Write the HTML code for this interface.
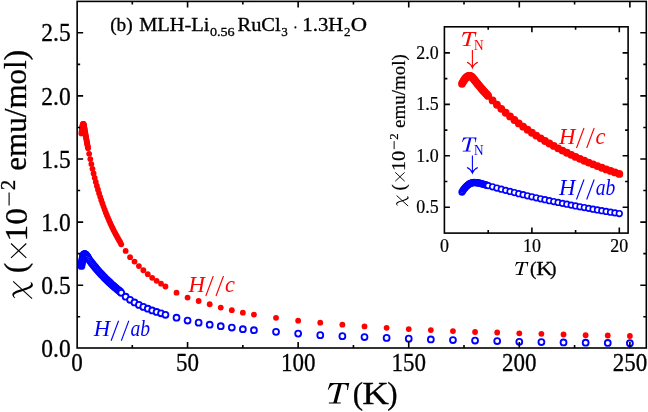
<!DOCTYPE html>
<html><head><meta charset="utf-8"><title>chart</title>
<style>html,body{margin:0;padding:0;background:#fff;}svg{display:block;will-change:transform;opacity:0.9999;}text{font-family:"Liberation Serif",serif;stroke:#000;stroke-width:.3px;}g.cr text,g.cb text{stroke:none;}</style>
</head><body>
<svg width="648" height="412" viewBox="0 0 648 412">
<rect x="0" y="0" width="648" height="412" fill="#fff"/>
<g fill="#fff" stroke="#0000ff" stroke-width="1.85"><circle cx="81.42" cy="265.95" r="2.95"/><circle cx="81.64" cy="264.31" r="2.95"/><circle cx="81.87" cy="262.68" r="2.95"/><circle cx="82.09" cy="261.42" r="2.95"/><circle cx="82.31" cy="260.16" r="2.95"/><circle cx="82.53" cy="258.90" r="2.95"/><circle cx="82.75" cy="258.01" r="2.95"/><circle cx="82.97" cy="257.13" r="2.95"/><circle cx="83.19" cy="256.25" r="2.95"/><circle cx="83.41" cy="255.75" r="2.95"/><circle cx="83.63" cy="255.24" r="2.95"/><circle cx="83.86" cy="254.74" r="2.95"/><circle cx="84.08" cy="254.57" r="2.95"/><circle cx="84.30" cy="254.40" r="2.95"/><circle cx="84.52" cy="254.23" r="2.95"/><circle cx="84.74" cy="254.32" r="2.95"/><circle cx="84.96" cy="254.40" r="2.95"/><circle cx="85.18" cy="254.49" r="2.95"/><circle cx="85.40" cy="254.65" r="2.95"/><circle cx="85.62" cy="254.82" r="2.95"/><circle cx="85.85" cy="254.99" r="2.95"/><circle cx="86.07" cy="255.31" r="2.95"/><circle cx="86.29" cy="255.62" r="2.95"/><circle cx="86.51" cy="255.94" r="2.95"/><circle cx="86.73" cy="256.25" r="2.95"/><circle cx="86.95" cy="256.56" r="2.95"/><circle cx="87.17" cy="256.87" r="2.95"/><circle cx="87.39" cy="257.18" r="2.95"/><circle cx="87.62" cy="257.49" r="2.95"/><circle cx="87.84" cy="257.79" r="2.95"/><circle cx="88.06" cy="258.10" r="2.95"/><circle cx="89.16" cy="259.60" r="2.95"/><circle cx="90.27" cy="261.07" r="2.95"/><circle cx="91.37" cy="262.51" r="2.95"/><circle cx="92.48" cy="263.92" r="2.95"/><circle cx="93.59" cy="265.30" r="2.95"/><circle cx="94.69" cy="266.65" r="2.95"/><circle cx="95.80" cy="267.97" r="2.95"/><circle cx="96.90" cy="269.27" r="2.95"/><circle cx="98.01" cy="270.54" r="2.95"/><circle cx="99.12" cy="271.78" r="2.95"/><circle cx="100.22" cy="273.00" r="2.95"/><circle cx="101.33" cy="274.20" r="2.95"/><circle cx="102.43" cy="275.37" r="2.95"/><circle cx="103.54" cy="276.52" r="2.95"/><circle cx="104.64" cy="277.65" r="2.95"/><circle cx="105.75" cy="278.76" r="2.95"/><circle cx="106.86" cy="279.85" r="2.95"/><circle cx="107.96" cy="280.92" r="2.95"/><circle cx="109.07" cy="281.96" r="2.95"/><circle cx="110.17" cy="282.99" r="2.95"/><circle cx="111.28" cy="284.00" r="2.95"/><circle cx="112.38" cy="285.00" r="2.95"/><circle cx="113.49" cy="285.97" r="2.95"/><circle cx="114.60" cy="286.93" r="2.95"/><circle cx="115.70" cy="287.87" r="2.95"/><circle cx="116.81" cy="288.80" r="2.95"/><circle cx="117.91" cy="289.71" r="2.95"/><circle cx="119.02" cy="290.60" r="2.95"/><circle cx="120.12" cy="291.48" r="2.95"/><circle cx="121.23" cy="292.84" r="2.95"/><circle cx="125.65" cy="296.69" r="2.95"/><circle cx="130.08" cy="299.84" r="2.95"/><circle cx="134.50" cy="302.49" r="2.95"/><circle cx="138.92" cy="304.88" r="2.95"/><circle cx="143.34" cy="306.90" r="2.95"/><circle cx="147.77" cy="308.66" r="2.95"/><circle cx="152.19" cy="310.43" r="2.95"/><circle cx="156.61" cy="311.94" r="2.95"/><circle cx="161.04" cy="313.32" r="2.95"/><circle cx="165.46" cy="314.84" r="2.95"/><circle cx="176.52" cy="317.73" r="2.95"/><circle cx="187.57" cy="320.51" r="2.95"/><circle cx="198.63" cy="322.65" r="2.95"/><circle cx="209.69" cy="324.66" r="2.95"/><circle cx="220.75" cy="326.18" r="2.95"/><circle cx="231.81" cy="327.56" r="2.95"/><circle cx="242.86" cy="329.20" r="2.95"/><circle cx="253.92" cy="330.21" r="2.95"/><circle cx="276.03" cy="331.85" r="2.95"/><circle cx="298.15" cy="333.61" r="2.95"/><circle cx="320.26" cy="335.13" r="2.95"/><circle cx="342.38" cy="336.13" r="2.95"/><circle cx="364.50" cy="337.02" r="2.95"/><circle cx="386.61" cy="337.90" r="2.95"/><circle cx="408.73" cy="338.65" r="2.95"/><circle cx="430.84" cy="339.41" r="2.95"/><circle cx="452.95" cy="340.04" r="2.95"/><circle cx="475.07" cy="340.54" r="2.95"/><circle cx="497.19" cy="341.05" r="2.95"/><circle cx="519.30" cy="341.80" r="2.95"/><circle cx="541.41" cy="342.06" r="2.95"/><circle cx="563.53" cy="342.43" r="2.95"/><circle cx="585.64" cy="342.69" r="2.95"/><circle cx="607.76" cy="342.94" r="2.95"/><circle cx="629.88" cy="343.19" r="2.95"/></g>
<g fill="#ff0000"><circle cx="81.42" cy="133.40" r="2.9"/><circle cx="81.64" cy="131.38" r="2.9"/><circle cx="81.87" cy="129.62" r="2.9"/><circle cx="82.09" cy="127.98" r="2.9"/><circle cx="82.31" cy="126.60" r="2.9"/><circle cx="82.53" cy="125.46" r="2.9"/><circle cx="82.75" cy="124.58" r="2.9"/><circle cx="82.97" cy="124.08" r="2.9"/><circle cx="83.19" cy="123.82" r="2.9"/><circle cx="83.41" cy="123.82" r="2.9"/><circle cx="83.63" cy="124.20" r="2.9"/><circle cx="83.86" cy="124.83" r="2.9"/><circle cx="84.08" cy="125.71" r="2.9"/><circle cx="84.30" cy="127.00" r="2.9"/><circle cx="84.52" cy="128.37" r="2.9"/><circle cx="84.74" cy="129.72" r="2.9"/><circle cx="84.96" cy="131.05" r="2.9"/><circle cx="85.18" cy="132.37" r="2.9"/><circle cx="85.40" cy="133.68" r="2.9"/><circle cx="85.62" cy="134.97" r="2.9"/><circle cx="85.85" cy="136.24" r="2.9"/><circle cx="86.07" cy="137.50" r="2.9"/><circle cx="86.29" cy="138.75" r="2.9"/><circle cx="86.51" cy="139.99" r="2.9"/><circle cx="86.73" cy="141.21" r="2.9"/><circle cx="86.95" cy="142.41" r="2.9"/><circle cx="87.17" cy="143.61" r="2.9"/><circle cx="87.39" cy="144.79" r="2.9"/><circle cx="87.62" cy="145.96" r="2.9"/><circle cx="87.84" cy="147.12" r="2.9"/><circle cx="88.06" cy="148.26" r="2.9"/><circle cx="89.16" cy="153.81" r="2.9"/><circle cx="90.27" cy="159.08" r="2.9"/><circle cx="91.37" cy="164.10" r="2.9"/><circle cx="92.48" cy="168.87" r="2.9"/><circle cx="93.59" cy="173.43" r="2.9"/><circle cx="94.69" cy="177.78" r="2.9"/><circle cx="95.80" cy="181.93" r="2.9"/><circle cx="96.90" cy="185.91" r="2.9"/><circle cx="98.01" cy="189.72" r="2.9"/><circle cx="99.12" cy="193.36" r="2.9"/><circle cx="100.22" cy="196.86" r="2.9"/><circle cx="101.33" cy="200.22" r="2.9"/><circle cx="102.43" cy="203.45" r="2.9"/><circle cx="103.54" cy="206.55" r="2.9"/><circle cx="104.64" cy="209.54" r="2.9"/><circle cx="105.75" cy="212.42" r="2.9"/><circle cx="106.86" cy="215.19" r="2.9"/><circle cx="107.96" cy="217.87" r="2.9"/><circle cx="109.07" cy="220.44" r="2.9"/><circle cx="110.17" cy="222.94" r="2.9"/><circle cx="111.28" cy="225.34" r="2.9"/><circle cx="112.38" cy="227.67" r="2.9"/><circle cx="113.49" cy="229.92" r="2.9"/><circle cx="114.60" cy="232.10" r="2.9"/><circle cx="115.70" cy="234.21" r="2.9"/><circle cx="116.81" cy="236.25" r="2.9"/><circle cx="117.91" cy="238.23" r="2.9"/><circle cx="119.02" cy="240.15" r="2.9"/><circle cx="120.12" cy="242.01" r="2.9"/><circle cx="121.23" cy="244.32" r="2.9"/><circle cx="125.65" cy="250.95" r="2.9"/><circle cx="130.08" cy="257.13" r="2.9"/><circle cx="134.50" cy="261.54" r="2.9"/><circle cx="138.92" cy="266.07" r="2.9"/><circle cx="143.34" cy="270.23" r="2.9"/><circle cx="147.77" cy="274.14" r="2.9"/><circle cx="152.19" cy="277.79" r="2.9"/><circle cx="156.61" cy="280.82" r="2.9"/><circle cx="161.04" cy="283.71" r="2.9"/><circle cx="165.46" cy="286.49" r="2.9"/><circle cx="176.52" cy="292.66" r="2.9"/><circle cx="187.57" cy="297.57" r="2.9"/><circle cx="198.63" cy="300.98" r="2.9"/><circle cx="209.69" cy="304.25" r="2.9"/><circle cx="220.75" cy="307.53" r="2.9"/><circle cx="231.81" cy="310.17" r="2.9"/><circle cx="242.86" cy="312.69" r="2.9"/><circle cx="253.92" cy="314.59" r="2.9"/><circle cx="276.03" cy="317.86" r="2.9"/><circle cx="298.15" cy="320.64" r="2.9"/><circle cx="320.26" cy="322.65" r="2.9"/><circle cx="342.38" cy="324.67" r="2.9"/><circle cx="364.50" cy="326.43" r="2.9"/><circle cx="386.61" cy="327.82" r="2.9"/><circle cx="408.73" cy="329.08" r="2.9"/><circle cx="430.84" cy="330.09" r="2.9"/><circle cx="452.95" cy="331.09" r="2.9"/><circle cx="475.07" cy="331.98" r="2.9"/><circle cx="497.19" cy="332.48" r="2.9"/><circle cx="519.30" cy="333.36" r="2.9"/><circle cx="541.41" cy="333.87" r="2.9"/><circle cx="563.53" cy="334.50" r="2.9"/><circle cx="585.64" cy="335.25" r="2.9"/><circle cx="607.76" cy="335.50" r="2.9"/><circle cx="629.88" cy="336.01" r="2.9"/></g>
<path d="M132.29 348.0v-3M132.29 1.4v3M187.57 348.0v-6M187.57 1.4v6M242.86 348.0v-3M242.86 1.4v3M298.15 348.0v-6M298.15 1.4v6M353.44 348.0v-3M353.44 1.4v3M408.73 348.0v-6M408.73 1.4v6M464.01 348.0v-3M464.01 1.4v3M519.30 348.0v-6M519.30 1.4v6M574.59 348.0v-3M574.59 1.4v3M629.88 348.0v-6M629.88 1.4v6M77.15 316.75h3M646.3 316.75h-3M77.15 285.20h6M646.3 285.20h-6M77.15 253.65h3M646.3 253.65h-3M77.15 222.10h6M646.3 222.10h-6M77.15 190.55h3M646.3 190.55h-3M77.15 159.00h6M646.3 159.00h-6M77.15 127.45h3M646.3 127.45h-3M77.15 95.90h6M646.3 95.90h-6M77.15 64.35h3M646.3 64.35h-3M77.15 32.80h6M646.3 32.80h-6" stroke="#000" stroke-width="1.6" fill="none"/>
<rect x="77.15" y="1.4" width="569.15" height="346.6" fill="none" stroke="#000" stroke-width="1.6"/>
<text x="77.00" y="371.4" font-size="24.5" text-anchor="middle" textLength="11.5" lengthAdjust="spacingAndGlyphs">0</text>
<text x="187.57" y="371.4" font-size="24.5" text-anchor="middle" textLength="23.0" lengthAdjust="spacingAndGlyphs">50</text>
<text x="298.15" y="371.4" font-size="24.5" text-anchor="middle" textLength="34.5" lengthAdjust="spacingAndGlyphs">100</text>
<text x="408.73" y="371.4" font-size="24.5" text-anchor="middle" textLength="34.5" lengthAdjust="spacingAndGlyphs">150</text>
<text x="519.30" y="371.4" font-size="24.5" text-anchor="middle" textLength="34.5" lengthAdjust="spacingAndGlyphs">200</text>
<text x="629.88" y="371.4" font-size="24.5" text-anchor="middle" textLength="34.5" lengthAdjust="spacingAndGlyphs">250</text>
<text x="70.7" y="356.90" font-size="24.5" text-anchor="end" textLength="29.4" lengthAdjust="spacingAndGlyphs">0.0</text>
<text x="70.7" y="293.80" font-size="24.5" text-anchor="end" textLength="29.4" lengthAdjust="spacingAndGlyphs">0.5</text>
<text x="70.7" y="230.70" font-size="24.5" text-anchor="end" textLength="29.4" lengthAdjust="spacingAndGlyphs">1.0</text>
<text x="70.7" y="167.60" font-size="24.5" text-anchor="end" textLength="29.4" lengthAdjust="spacingAndGlyphs">1.5</text>
<text x="70.7" y="104.50" font-size="24.5" text-anchor="end" textLength="29.4" lengthAdjust="spacingAndGlyphs">2.0</text>
<text x="70.7" y="41.40" font-size="24.5" text-anchor="end" textLength="29.4" lengthAdjust="spacingAndGlyphs">2.5</text>
<path transform="translate(328.0,403.6) scale(1.0000)" d="M1.9 -20.6L21.3 -20.6L19.8 -13.7L19.0 -13.7C19.6 -17 19.4 -19.3 16 -19.4L13.6 -19.4L9.0 -1.8C8.8 -1.1 9.2 -1.0 12.8 -1.0L12.6 0L0.8 0L1.0 -1.0C4.5 -1.0 5.4 -1.1 5.7 -2.2L10.2 -19.4L8 -19.4C4.5 -19.3 2.8 -18 0.6 -13.9L-0.2 -13.9Z" fill="#000"/>
<text x="352.8" y="403.5" font-size="31">(</text>
<text x="362.2" y="403.5" font-size="31" textLength="26.6" lengthAdjust="spacingAndGlyphs">K</text>
<text x="387.2" y="403.5" font-size="31">)</text>
<g><path d="M14.9 298.3C12.9 297.3 11.8 295.3 12.6 293.6C13.6 291.5 17 290.6 22.3 289C26 287.8 29.3 286.6 30.6 285C31.4 284 31.1 282.9 30.2 282.1C32.3 282.6 33.4 284.2 32.7 285.9C31.9 287.9 28.5 289 22.9 290.9C18.5 292.3 15.4 293.1 14.3 294.6C13.6 295.6 14.1 297 15.3 297.8Z" fill="#000"/><path d="M13.15 281.4L32.07 298.65" stroke="#000" stroke-width="1.1" fill="none"/><path d="M11.0 243.5L26.3 257.9M11.0 257.9L26.3 243.5" stroke="#000" stroke-width="1.1" fill="none"/><path d="M9.1 205.5V192.4" stroke="#000" stroke-width="1.1" fill="none"/><text transform="translate(26.4,273.0) rotate(-90)" font-size="30.5" >(</text><text transform="translate(26.799999999999997,241.4) rotate(-90)" font-size="31.6" textLength="33.4" lengthAdjust="spacingAndGlyphs">10</text><text transform="translate(14.75,190.2) rotate(-90)" font-size="21" >2</text><text transform="translate(26.4,170.7) rotate(-90)" font-size="30.5" textLength="120.8" lengthAdjust="spacingAndGlyphs">emu/mol)</text></g>
<text x="110.2" y="31.3" font-size="18" textLength="22.5" lengthAdjust="spacingAndGlyphs">(b)</text>
<text x="139.2" y="31.3" font-size="18" textLength="70.3" lengthAdjust="spacingAndGlyphs">MLH-Li</text>
<text x="209.9" y="36.0" font-size="13" textLength="24.8" lengthAdjust="spacingAndGlyphs">0.56</text>
<text x="237.5" y="31.3" font-size="18" textLength="43.2" lengthAdjust="spacingAndGlyphs">RuCl</text>
<text x="281.3" y="36.0" font-size="13">3</text>
<circle cx="295.4" cy="27.400000000000002" r="1.05" fill="#000"/>
<text x="302.3" y="31.3" font-size="18" textLength="41" lengthAdjust="spacingAndGlyphs">1.3H</text>
<text x="344" y="36.0" font-size="13">2</text>
<text x="350.8" y="31.3" font-size="18" textLength="16.3" lengthAdjust="spacingAndGlyphs">O</text>
<g class="cr" fill="#ff0000" stroke="none"><text x="188.4" y="291.6" font-size="22.3" font-style="italic" textLength="16.4" lengthAdjust="spacingAndGlyphs">H</text><line x1="205.8" y1="296.0" x2="213.3" y2="276.0" stroke="#ff0000" stroke-width="1.1"/><line x1="216.0" y1="296.0" x2="223.5" y2="276.0" stroke="#ff0000" stroke-width="1.1"/><text x="224.9" y="291.6" font-size="22.3" font-style="italic">c</text></g>
<g class="cb" fill="#0000ff" stroke="none"><text x="93.7" y="336.3" font-size="22.3" font-style="italic" textLength="16.4" lengthAdjust="spacingAndGlyphs">H</text><line x1="111.1" y1="340.7" x2="118.6" y2="320.7" stroke="#0000ff" stroke-width="1.1"/><line x1="121.3" y1="340.7" x2="128.8" y2="320.7" stroke="#0000ff" stroke-width="1.1"/><text x="130.4" y="336.3" font-size="22.3" font-style="italic" textLength="19.6" lengthAdjust="spacingAndGlyphs">ab</text></g>
<rect x="444.4" y="26.8" width="183.70000000000005" height="206.29999999999998" fill="#fff" stroke="none"/>
<g fill="#fff" stroke="#0000ff" stroke-width="1.65"><circle cx="461.98" cy="192.02" r="2.8"/><circle cx="462.85" cy="190.68" r="2.8"/><circle cx="463.73" cy="189.35" r="2.8"/><circle cx="464.60" cy="188.32" r="2.8"/><circle cx="465.48" cy="187.29" r="2.8"/><circle cx="466.35" cy="186.26" r="2.8"/><circle cx="467.22" cy="185.54" r="2.8"/><circle cx="468.10" cy="184.82" r="2.8"/><circle cx="468.97" cy="184.10" r="2.8"/><circle cx="469.85" cy="183.69" r="2.8"/><circle cx="470.72" cy="183.27" r="2.8"/><circle cx="471.59" cy="182.86" r="2.8"/><circle cx="472.47" cy="182.73" r="2.8"/><circle cx="473.34" cy="182.59" r="2.8"/><circle cx="474.22" cy="182.45" r="2.8"/><circle cx="475.09" cy="182.52" r="2.8"/><circle cx="475.96" cy="182.59" r="2.8"/><circle cx="476.84" cy="182.66" r="2.8"/><circle cx="477.71" cy="182.79" r="2.8"/><circle cx="478.59" cy="182.93" r="2.8"/><circle cx="479.46" cy="183.07" r="2.8"/><circle cx="480.33" cy="183.33" r="2.8"/><circle cx="481.21" cy="183.58" r="2.8"/><circle cx="482.08" cy="183.84" r="2.8"/><circle cx="482.96" cy="184.10" r="2.8"/><circle cx="483.83" cy="184.35" r="2.8"/><circle cx="484.70" cy="184.60" r="2.8"/><circle cx="485.58" cy="184.86" r="2.8"/><circle cx="486.45" cy="185.11" r="2.8"/><circle cx="487.33" cy="185.36" r="2.8"/><circle cx="488.20" cy="185.61" r="2.8"/><circle cx="492.57" cy="186.83" r="2.8"/><circle cx="496.94" cy="188.03" r="2.8"/><circle cx="501.31" cy="189.21" r="2.8"/><circle cx="505.68" cy="190.36" r="2.8"/><circle cx="510.05" cy="191.49" r="2.8"/><circle cx="514.42" cy="192.59" r="2.8"/><circle cx="518.79" cy="193.67" r="2.8"/><circle cx="523.16" cy="194.73" r="2.8"/><circle cx="527.53" cy="195.77" r="2.8"/><circle cx="531.90" cy="196.78" r="2.8"/><circle cx="536.27" cy="197.78" r="2.8"/><circle cx="540.64" cy="198.76" r="2.8"/><circle cx="545.01" cy="199.71" r="2.8"/><circle cx="549.38" cy="200.65" r="2.8"/><circle cx="553.75" cy="201.58" r="2.8"/><circle cx="558.12" cy="202.48" r="2.8"/><circle cx="562.49" cy="203.37" r="2.8"/><circle cx="566.86" cy="204.24" r="2.8"/><circle cx="571.23" cy="205.10" r="2.8"/><circle cx="575.60" cy="205.94" r="2.8"/><circle cx="579.97" cy="206.76" r="2.8"/><circle cx="584.34" cy="207.57" r="2.8"/><circle cx="588.71" cy="208.37" r="2.8"/><circle cx="593.08" cy="209.15" r="2.8"/><circle cx="597.45" cy="209.92" r="2.8"/><circle cx="601.82" cy="210.68" r="2.8"/><circle cx="606.19" cy="211.42" r="2.8"/><circle cx="610.56" cy="212.15" r="2.8"/><circle cx="614.93" cy="212.87" r="2.8"/><circle cx="619.30" cy="213.57" r="2.8"/></g>
<g fill="#ff0000"><circle cx="461.98" cy="83.77" r="3.9"/><circle cx="462.85" cy="82.12" r="3.9"/><circle cx="463.73" cy="80.68" r="3.9"/><circle cx="464.60" cy="79.35" r="3.9"/><circle cx="465.48" cy="78.21" r="3.9"/><circle cx="466.35" cy="77.29" r="3.9"/><circle cx="467.22" cy="76.57" r="3.9"/><circle cx="468.10" cy="76.16" r="3.9"/><circle cx="468.97" cy="75.95" r="3.9"/><circle cx="469.85" cy="75.95" r="3.9"/><circle cx="470.72" cy="76.26" r="3.9"/><circle cx="471.59" cy="76.77" r="3.9"/><circle cx="472.47" cy="77.49" r="3.9"/><circle cx="473.34" cy="78.55" r="3.9"/><circle cx="474.22" cy="79.66" r="3.9"/><circle cx="475.09" cy="80.76" r="3.9"/><circle cx="475.96" cy="81.85" r="3.9"/><circle cx="476.84" cy="82.93" r="3.9"/><circle cx="477.71" cy="84.00" r="3.9"/><circle cx="478.59" cy="85.05" r="3.9"/><circle cx="479.46" cy="86.09" r="3.9"/><circle cx="480.33" cy="87.12" r="3.9"/><circle cx="481.21" cy="88.14" r="3.9"/><circle cx="482.08" cy="89.15" r="3.9"/><circle cx="482.96" cy="90.15" r="3.9"/><circle cx="483.83" cy="91.13" r="3.9"/><circle cx="484.70" cy="92.11" r="3.9"/><circle cx="485.58" cy="93.07" r="3.9"/><circle cx="486.45" cy="94.03" r="3.9"/><circle cx="487.33" cy="94.97" r="3.9"/><circle cx="488.20" cy="95.91" r="3.9"/><circle cx="492.57" cy="100.44" r="3.9"/><circle cx="496.94" cy="104.74" r="3.9"/><circle cx="501.31" cy="108.84" r="3.9"/><circle cx="505.68" cy="112.74" r="3.9"/><circle cx="510.05" cy="116.46" r="3.9"/><circle cx="514.42" cy="120.01" r="3.9"/><circle cx="518.79" cy="123.41" r="3.9"/><circle cx="523.16" cy="126.65" r="3.9"/><circle cx="527.53" cy="129.76" r="3.9"/><circle cx="531.90" cy="132.74" r="3.9"/><circle cx="536.27" cy="135.60" r="3.9"/><circle cx="540.64" cy="138.34" r="3.9"/><circle cx="545.01" cy="140.98" r="3.9"/><circle cx="549.38" cy="143.51" r="3.9"/><circle cx="553.75" cy="145.95" r="3.9"/><circle cx="558.12" cy="148.30" r="3.9"/><circle cx="562.49" cy="150.57" r="3.9"/><circle cx="566.86" cy="152.75" r="3.9"/><circle cx="571.23" cy="154.86" r="3.9"/><circle cx="575.60" cy="156.89" r="3.9"/><circle cx="579.97" cy="158.86" r="3.9"/><circle cx="584.34" cy="160.76" r="3.9"/><circle cx="588.71" cy="162.59" r="3.9"/><circle cx="593.08" cy="164.37" r="3.9"/><circle cx="597.45" cy="166.10" r="3.9"/><circle cx="601.82" cy="167.76" r="3.9"/><circle cx="606.19" cy="169.38" r="3.9"/><circle cx="610.56" cy="170.95" r="3.9"/><circle cx="614.93" cy="172.47" r="3.9"/><circle cx="619.30" cy="173.95" r="3.9"/></g>
<path d="M488.20 233.1v-3M488.20 26.8v3M531.90 233.1v-5.5M531.90 26.8v5.5M575.60 233.1v-3M575.60 26.8v3M619.30 233.1v-5.5M619.30 26.8v5.5M444.4 207.25h5.5M628.1 207.25h-5.5M444.4 181.53h3M628.1 181.53h-3M444.4 155.80h5.5M628.1 155.80h-5.5M444.4 130.08h3M628.1 130.08h-3M444.4 104.35h5.5M628.1 104.35h-5.5M444.4 78.62h3M628.1 78.62h-3M444.4 52.90h5.5M628.1 52.90h-5.5" stroke="#000" stroke-width="1.6" fill="none"/>
<rect x="444.4" y="26.8" width="183.70000000000005" height="206.29999999999998" fill="none" stroke="#000" stroke-width="1.6"/>
<text x="444.50" y="251.6" font-size="17.9" text-anchor="middle" style="stroke-width:.2px">0</text>
<text x="531.90" y="251.6" font-size="17.9" text-anchor="middle" style="stroke-width:.2px">10</text>
<text x="619.30" y="251.6" font-size="17.9" text-anchor="middle" style="stroke-width:.2px">20</text>
<text x="438.6" y="213.25" font-size="17.9" text-anchor="end" style="stroke-width:.2px">0.5</text>
<text x="438.6" y="161.80" font-size="17.9" text-anchor="end" style="stroke-width:.2px">1.0</text>
<text x="438.6" y="110.35" font-size="17.9" text-anchor="end" style="stroke-width:.2px">1.5</text>
<text x="438.6" y="58.90" font-size="17.9" text-anchor="end" style="stroke-width:.2px">2.0</text>
<path transform="translate(515.15,274.9) scale(0.6214)" d="M1.9 -20.6L21.3 -20.6L19.8 -13.7L19.0 -13.7C19.6 -17 19.4 -19.3 16 -19.4L13.6 -19.4L9.0 -1.8C8.8 -1.1 9.2 -1.0 12.8 -1.0L12.6 0L0.8 0L1.0 -1.0C4.5 -1.0 5.4 -1.1 5.7 -2.2L10.2 -19.4L8 -19.4C4.5 -19.3 2.8 -18 0.6 -13.9L-0.2 -13.9Z" fill="#000"/>
<text x="529.95" y="274.9" font-size="19.3">(</text>
<text x="536.2" y="274.9" font-size="19.3" textLength="16.5" lengthAdjust="spacingAndGlyphs">K</text>
<text x="550.0" y="274.9" font-size="19.3">)</text>
<g transform="translate(404.7,206.1) scale(0.611) translate(-26.4,-298.7)"><path d="M14.9 298.3C12.9 297.3 11.8 295.3 12.6 293.6C13.6 291.5 17 290.6 22.3 289C26 287.8 29.3 286.6 30.6 285C31.4 284 31.1 282.9 30.2 282.1C32.3 282.6 33.4 284.2 32.7 285.9C31.9 287.9 28.5 289 22.9 290.9C18.5 292.3 15.4 293.1 14.3 294.6C13.6 295.6 14.1 297 15.3 297.8Z" fill="#000"/><path d="M13.15 281.4L32.07 298.65" stroke="#000" stroke-width="1.55" fill="none"/><path d="M11.0 243.5L26.3 257.9M11.0 257.9L26.3 243.5" stroke="#000" stroke-width="1.55" fill="none"/><path d="M9.1 205.5V192.4" stroke="#000" stroke-width="1.55" fill="none"/><text transform="translate(26.4,273.0) rotate(-90)" font-size="30.5" >(</text><text transform="translate(26.799999999999997,241.4) rotate(-90)" font-size="31.6" textLength="33.4" lengthAdjust="spacingAndGlyphs">10</text><text transform="translate(14.75,190.2) rotate(-90)" font-size="21" >2</text><text transform="translate(26.4,170.7) rotate(-90)" font-size="30.5" textLength="120.8" lengthAdjust="spacingAndGlyphs">emu/mol)</text></g>
<g class="cr" fill="#ff0000" stroke="none"><text x="559.1" y="143.6" font-size="22.3" font-style="italic" textLength="16.4" lengthAdjust="spacingAndGlyphs">H</text><line x1="576.5" y1="148.0" x2="584.0" y2="128.0" stroke="#ff0000" stroke-width="1.1"/><line x1="586.7" y1="148.0" x2="594.2" y2="128.0" stroke="#ff0000" stroke-width="1.1"/><text x="595.6" y="143.6" font-size="22.3" font-style="italic">c</text></g>
<g class="cb" fill="#0000ff" stroke="none"><text x="559.1" y="195.1" font-size="22.3" font-style="italic" textLength="16.4" lengthAdjust="spacingAndGlyphs">H</text><line x1="576.5" y1="199.5" x2="584.0" y2="179.5" stroke="#0000ff" stroke-width="1.1"/><line x1="586.7" y1="199.5" x2="594.2" y2="179.5" stroke="#0000ff" stroke-width="1.1"/><text x="595.8" y="195.1" font-size="22.3" font-style="italic" textLength="19.6" lengthAdjust="spacingAndGlyphs">ab</text></g>
<g class="cr" fill="#ff0000"><path transform="translate(462.1,46.1) scale(0.6796)" d="M1.9 -20.6L21.3 -20.6L19.8 -13.7L19.0 -13.7C19.6 -17 19.4 -19.3 16 -19.4L13.6 -19.4L9.0 -1.8C8.8 -1.1 9.2 -1.0 12.8 -1.0L12.6 0L0.8 0L1.0 -1.0C4.5 -1.0 5.4 -1.1 5.7 -2.2L10.2 -19.4L8 -19.4C4.5 -19.3 2.8 -18 0.6 -13.9L-0.2 -13.9Z" fill="#ff0000"/><text x="474.0" y="49.7" font-size="15.6" textLength="9.6" lengthAdjust="spacingAndGlyphs">N</text><path d="M472.4 50.0V67.8M467.0 62.3Q471.2 64.2 472.4 67.8Q473.59999999999997 64.2 477.79999999999995 62.3" fill="none" stroke="#ff0000" stroke-width="1.1"/></g>
<g class="cb" fill="#0000ff"><path transform="translate(462.1,151.5) scale(0.6796)" d="M1.9 -20.6L21.3 -20.6L19.8 -13.7L19.0 -13.7C19.6 -17 19.4 -19.3 16 -19.4L13.6 -19.4L9.0 -1.8C8.8 -1.1 9.2 -1.0 12.8 -1.0L12.6 0L0.8 0L1.0 -1.0C4.5 -1.0 5.4 -1.1 5.7 -2.2L10.2 -19.4L8 -19.4C4.5 -19.3 2.8 -18 0.6 -13.9L-0.2 -13.9Z" fill="#0000ff"/><text x="474.0" y="155.1" font-size="15.6" textLength="9.6" lengthAdjust="spacingAndGlyphs">N</text><path d="M472.4 155.4V173.0M467.0 167.5Q471.2 169.4 472.4 173.0Q473.59999999999997 169.4 477.79999999999995 167.5" fill="none" stroke="#0000ff" stroke-width="1.1"/></g>
</svg></body></html>
